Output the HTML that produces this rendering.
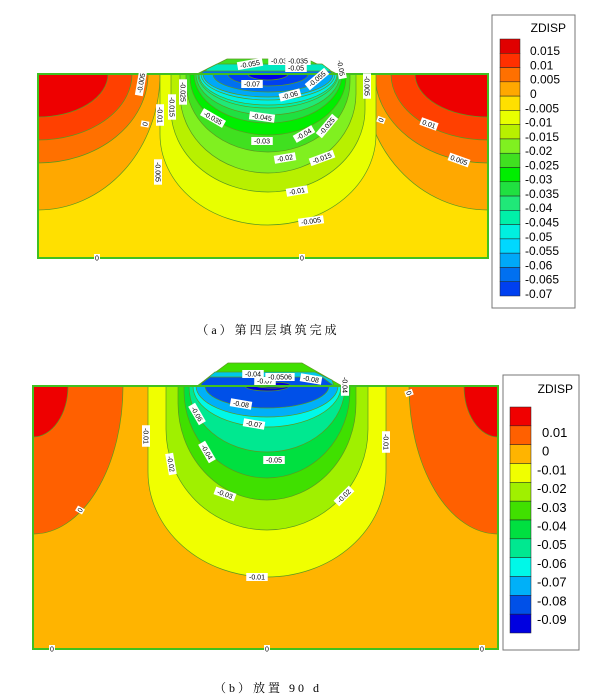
<!DOCTYPE html>
<html><head><meta charset="utf-8">
<style>
html,body{margin:0;padding:0;background:#fff;}
svg{display:block;font-family:"Liberation Sans",sans-serif;}
.cap{font-family:"Liberation Serif","Noto Serif CJK SC",serif;font-size:12px;letter-spacing:3px;}
.lb{font-size:7px;}
</style></head><body>
<svg id="s" width="609" height="699" viewBox="0 0 609 699" xmlns="http://www.w3.org/2000/svg">
<defs>
<clipPath id="c1"><rect x="38" y="74" width="450" height="184"/></clipPath>
<clipPath id="c2"><rect x="33" y="386" width="465" height="263"/></clipPath>
</defs>
<g id="g1" clip-path="url(#c1)"><rect x="38" y="74" width="450" height="184" fill="#ffe000"/></g>
<g id="g2" clip-path="url(#c2)"><rect x="33" y="386" width="465" height="263" fill="#ffb400"/></g>
<g id="m"></g>
<rect x="38" y="74" width="450" height="184" fill="none" stroke="#40c020" stroke-width="2"/>
<rect x="33" y="386" width="465" height="263" fill="none" stroke="#40c020" stroke-width="2"/>
<g id="leg"></g>
<g id="labs" class="lb"></g>
<text x="268" y="334" text-anchor="middle" class="cap">（a）第四层填筑完成</text>
<text x="268" y="692" text-anchor="middle" class="cap">（b）放置 90 d</text>
</svg>
<script>
var NS="http://www.w3.org/2000/svg";
function el(p,t,a,txt){var e=document.createElementNS(NS,t);for(var k in a)e.setAttribute(k,a[k]);if(txt!==undefined)e.textContent=txt;document.getElementById(p).appendChild(e);return e;}
function U(cx,top,hw,d,f){var L=cx-hw,R=cx+hw,b=top+d,s=top+f*d;
return "M"+L+","+(top-2)+" L"+L+","+s+" A"+hw+" "+(b-s)+" 0 0 0 "+R+","+s+" L"+R+","+(top-2)+" Z";}
function F(c){return {fill:c,stroke:"#5a9a20","stroke-width":"0.7"};}
var tc=[["#ffa800",122,136],["#ff7000",110,89],["#ff4000",94,66],["#ee0000",70,43]];
tc.forEach(function(b){el("g1","ellipse",Object.assign(F(b[0]),{cx:38,cy:74,rx:b[1],ry:b[2]}));el("g1","ellipse",Object.assign(F(b[0]),{cx:488,cy:74,rx:b[1]+3,ry:b[2]}));});
var tb=[["#e8ff00",108,151,0.4],["#b8f000",97,118,0.3],["#80f020",88,99,0.2],["#40e020",82,78,0.1],["#00ee00",78,61,0.05],["#20e040",74,49,0],["#20e878",72,41,0],["#00f0a8",70,34,0],["#00f0e0",69,31,0],["#00d8ff",67,26,0],["#00a8f8",65,23,0],["#0070f0",55,18,0],["#0040f0",40,12,0],["#0000e8",20,6,0]];
tb.forEach(function(b){el("g1","path",Object.assign(F(b[0]),{d:U(268,74,b[1],b[2],b[3])}));});
var bc=[["#ff6000",90,148],["#ee0000",35,51]];
bc.forEach(function(b){el("g2","ellipse",Object.assign(F(b[0]),{cx:33,cy:386,rx:b[1],ry:b[2]}));el("g2","ellipse",Object.assign(F(b[0]),{cx:498,cy:386,rx:b[1]-1,ry:b[2]}));});
var bb=[["#f0ff00",119,191,0.45],["#a0f000",101,144,0.3],["#40e000",89,114,0.15],["#00e040",83,92,0.05],["#00e890",78,66,0],["#00f8e8",74,41,0],["#00b0f8",71,31,0],["#0050e8",62,22,0],["#0000d8",22,5,0]];
bb.forEach(function(b){el("g2","path",Object.assign(F(b[0]),{d:U(267,386,b[1],b[2],b[3])}));});
el("m","polygon",Object.assign(F("#40e020"),{points:"197,74 227,59 307,59 337,74"}));
el("m","polygon",Object.assign(F("#00e8c0"),{points:"207,69 217,64 322,64 330,70 330,74 203,74"}));
el("m","polygon",Object.assign(F("#0070f0"),{points:"204,71 330,71 333,74 200,74"}));
el("m","polygon",Object.assign(F("#40e000"),{points:"197,386 228,363 302,363 342,386"}));
el("m","polygon",Object.assign(F("#00c8e8"),{points:"205,380 215,372 315,372 332,380 334,386 200,386"}));
el("m","polygon",Object.assign(F("#0050e8"),{points:"202,383 210,377 322,377 334,386 200,386"}));
el("m","ellipse",Object.assign(F("#0000d8"),{cx:272,cy:385,rx:18,ry:3}));
el("leg","rect",{x:492,y:15,width:83,height:293,fill:"#fff",stroke:"#777"});
el("leg","text",{x:566,y:32,"font-size":"12","text-anchor":"end"},"ZDISP");
var c1=["#e00000","#ff3000","#ff7000","#ffa800","#ffe000","#e8ff00","#b8f000","#80f020","#40e020","#00ee00","#20e040","#20e878","#00f0a8","#00f0e0","#00d8ff","#00a8f8","#0070f0","#0040f0","#0000f0"];
var l1=["0.015","0.01","0.005","0","-0.005","-0.01","-0.015","-0.02","-0.025","-0.03","-0.035","-0.04","-0.045","-0.05","-0.055","-0.06","-0.065","-0.07"];
var h1=257/18;
for(var i=0;i<18;i++){el("leg","rect",{x:500,y:39+i*h1,width:20,height:h1,fill:c1[i],stroke:"#222","stroke-width":"0.5"});
el("leg","text",{x:l1[i][0]=="-"?525:530,y:39+i*h1+h1*0.5+9,"font-size":"12"},l1[i]);}
el("leg","rect",{x:503,y:375,width:76,height:275,fill:"#fff",stroke:"#777"});
el("leg","text",{x:573,y:393,"font-size":"12","text-anchor":"end"},"ZDISP");
var c2=["#f00000","#ff6000","#ffb400","#f0ff00","#a0f000","#40e000","#00e040","#00e890","#00f8e8","#00b0f8","#0050e8","#0000e0"];
var l2=["0.01","0","-0.01","-0.02","-0.03","-0.04","-0.05","-0.06","-0.07","-0.08","-0.09"];
var h2=226/12;
for(var i=0;i<12;i++)el("leg","rect",{x:510,y:407+i*h2,width:21,height:h2,fill:c2[i],stroke:"#222","stroke-width":"0.5"});
for(var i=0;i<11;i++)el("leg","text",{x:l2[i][0]=="-"?537:542,y:432+i*18.7+5,"font-size":"13"},l2[i]);
function lab(x,y,t,r){var g=el("labs","g",{transform:"translate("+x+","+y+") rotate("+(r||0)+")"});
var w=t.length*3.9+2;var r1=document.createElementNS(NS,"rect");r1.setAttribute("x",-w/2);r1.setAttribute("y",-4);r1.setAttribute("width",w);r1.setAttribute("height",8);r1.setAttribute("fill","#fff");g.appendChild(r1);
var tx=document.createElementNS(NS,"text");tx.setAttribute("text-anchor","middle");tx.setAttribute("y",2.5);tx.textContent=t;g.appendChild(tx);}
[[252,84,"-0.07",0],[262,117,"-0.045",8],[262,141,"-0.03",0],[285,158,"-0.02",-10],[297,191,"-0.01",-10],[311,221,"-0.005",-8],[213,118,"-0.035",30],[304,134,"-0.04",-30],[327,126,"-0.025",-50],[322,158,"-0.015",-20],[290,95,"-0.06",-15],[317,79,"-0.055",-40],[341,68,"-0.05",80],[250,64,"-0.055",-10],[279,61,"-0.03",0],[298,61,"-0.035",0],[296,68,"-0.05",0],[141,83,"-0.005",-80],[145,124,"0",-80],[160,115,"-0.01",90],[172,107,"-0.015",90],[183,92,"-0.025",90],[158,172,"-0.005",90],[367,86,"-0.005",90],[381,120,"0",-70],[429,124,"0.01",20],[459,160,"0.005",20],[97,258,"0",0],[302,258,"0",0],
[253,374,"-0.04",0],[265,381,"-0.07",0],[280,377,"-0.0506",0],[311,379,"-0.08",10],[345,385,"-0.04",90],[241,404,"-0.08",10],[254,424,"-0.07",10],[197,414,"-0.06",60],[207,452,"-0.04",60],[274,460,"-0.05",0],[225,494,"-0.03",20],[344,496,"-0.02",-45],[146,436,"-0.01",90],[171,464,"-0.02",80],[386,442,"-0.01",90],[80,510,"0",-60],[409,393,"0",70],[257,577,"-0.01",0],[52,649,"0",0],[267,649,"0",0],[482,649,"0",0]].forEach(function(a){lab(a[0],a[1],a[2],a[3]);});
</script>
</body></html>
